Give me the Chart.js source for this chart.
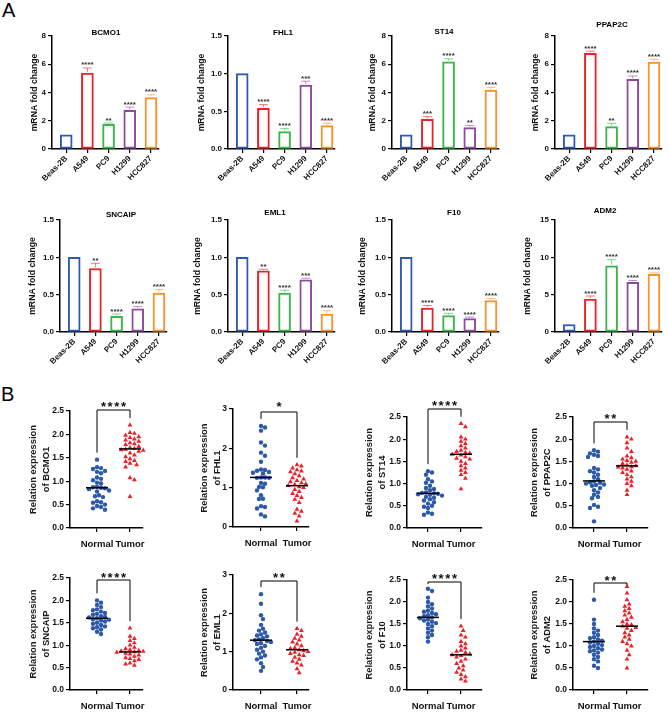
<!DOCTYPE html>
<html><head><meta charset="utf-8">
<script src="https://cdn.jsdelivr.net/npm/chart.js@4.4.1/dist/chart.umd.min.js"></script>
<style>
html,body{margin:0;padding:0;background:#fff}
body{width:669px;height:712px;position:relative;overflow:hidden;font-family:"Liberation Sans",Arial,sans-serif}
.panel{position:absolute;font-size:20px;line-height:20px;color:#000}
</style></head><body>
<div class="panel" style="left:2px;top:0px">A</div>
<div class="panel" style="left:1px;top:384px">B</div>
<script>
// ---------------- DATA: panel A (qPCR, cell lines) ----------------
const cellLines = ['Beas-2B', 'A549', 'PC9', 'H1299', 'HCC827'];

const bcmo1Fold = [1.00, 5.38, 1.74, 2.73, 3.64];
const bcmo1Sd   = [0, 0.36, 0.10, 0.24, 0.20];
const bcmo1Sig  = ['', '****', '**', '****', '****'];

const fhl1Fold = [1.00, 0.54, 0.23, 0.85, 0.31];
const fhl1Sd   = [0, 0.05, 0.04, 0.05, 0.03];
const fhl1Sig  = ['', '****', '****', '***', '****'];

const st14Fold = [1.00, 2.10, 6.18, 1.51, 4.17];
const st14Sd   = [0, 0.19, 0.21, 0.16, 0.19];
const st14Sig  = ['', '***', '****', '**', '****'];

const ppap2cFold = [1.00, 6.77, 1.58, 4.93, 6.16];
const ppap2cSd   = [0, 0.16, 0.24, 0.24, 0.19];
const ppap2cSig  = ['', '****', '**', '****', '****'];

const sncaipFold = [1.00, 0.85, 0.21, 0.31, 0.52];
const sncaipSd   = [0, 0.07, 0.03, 0.03, 0.05];
const sncaipSig  = ['', '**', '****', '****', '****'];

const eml1Fold = [1.00, 0.82, 0.52, 0.70, 0.24];
const eml1Sd   = [0, 0.02, 0.04, 0.02, 0.045];
const eml1Sig  = ['', '**', '****', '***', '****'];

const f10Fold = [1.00, 0.32, 0.22, 0.18, 0.42];
const f10Sd   = [0, 0.035, 0.03, 0.02, 0.03];
const f10Sig  = ['', '****', '****', '****', '****'];

const adm2Fold = [1.00, 4.42, 8.85, 6.64, 7.74];
const adm2Sd   = [0, 0.40, 0.84, 0.26, 0.18];
const adm2Sig  = ['', '****', '****', '****', '****'];

const ticksFold8  = ['0', '2', '4', '6', '8'];
const ticksFold15 = ['0.0', '0.5', '1.0', '1.5'];
const ticksAdm2   = ['0', '5', '10', '15'];

// ---------------- DATA: panel B (tissues) ----------------
const groups = ['Normal', 'Tumor'];

const bcmo1Normal = [1.46,1.30,1.28,1.26,1.22,1.20,1.17,1.08,1.05,1.02,0.97,0.95,0.88,0.87,0.86,0.85,0.83,0.80,0.78,0.70,0.68,0.66,0.57,0.55,0.54,0.50,0.47,0.45,0.42,0.39];
const bcmo1Tumor  = [2.20,2.04,2.02,1.98,1.95,1.93,1.90,1.88,1.85,1.82,1.80,1.78,1.74,1.72,1.70,1.68,1.67,1.66,1.64,1.60,1.56,1.52,1.48,1.44,1.42,1.38,1.35,1.30,1.07,1.03,0.67];
const bcmo1Mean   = [0.86, 1.69];

const fhl1Normal = [2.57,2.53,2.45,2.15,2.07,1.89,1.81,1.66,1.46,1.45,1.43,1.40,1.38,1.36,1.26,1.26,1.25,1.25,1.12,1.10,1.02,1.01,0.93,0.81,0.72,0.71,0.53,0.51,0.47,0.32,0.27];
const fhl1Tumor  = [1.58,1.55,1.50,1.45,1.42,1.40,1.35,1.30,1.25,1.22,1.18,1.15,1.12,1.10,1.08,1.05,1.02,1.00,0.95,0.90,0.85,0.80,0.75,0.70,0.62,0.45,0.40,0.35,0.28,0.15];
const fhl1Mean   = [1.26, 1.05];

const st14Normal = [1.28,1.25,1.20,1.10,1.05,1.02,0.95,0.90,0.88,0.85,0.80,0.79,0.78,0.77,0.76,0.75,0.73,0.70,0.68,0.65,0.62,0.58,0.55,0.50,0.48,0.45,0.35,0.32,0.30];
const st14Tumor  = [2.35,2.28,2.05,2.00,1.95,1.90,1.85,1.80,1.75,1.72,1.70,1.68,1.66,1.64,1.60,1.57,1.55,1.50,1.45,1.40,1.35,1.30,1.25,1.20,1.12,0.88];
const st14Mean   = [0.78, 1.66];

const ppap2cNormal = [1.75,1.72,1.68,1.65,1.62,1.60,1.35,1.32,1.28,1.25,1.20,1.15,1.10,1.05,1.03,1.02,1.00,0.98,0.97,0.95,0.90,0.85,0.80,0.75,0.70,0.67,0.52,0.48,0.45,0.15];
const ppap2cTumor  = [2.05,2.00,1.92,1.80,1.72,1.62,1.58,1.55,1.52,1.50,1.48,1.45,1.42,1.40,1.38,1.37,1.35,1.32,1.28,1.25,1.20,1.15,1.10,1.05,1.00,0.95,0.85,0.75];
const ppap2cMean   = [1.06, 1.40];

const sncaipNormal = [2.00,1.95,1.90,1.85,1.80,1.78,1.75,1.72,1.70,1.68,1.65,1.63,1.62,1.60,1.58,1.57,1.55,1.53,1.50,1.48,1.45,1.42,1.40,1.38,1.35,1.30,1.25];
const sncaipTumor  = [1.38,1.20,1.15,1.10,1.05,1.00,0.95,0.92,0.90,0.88,0.87,0.86,0.85,0.84,0.82,0.80,0.78,0.75,0.72,0.70,0.68,0.65,0.60,0.58,0.55];
const sncaipMean   = [1.60, 0.85];

const eml1Normal = [2.50,2.25,1.95,1.85,1.70,1.60,1.55,1.50,1.45,1.42,1.40,1.35,1.32,1.30,1.28,1.25,1.22,1.20,1.15,1.10,1.05,1.00,0.95,0.90,0.85,0.80,0.70,0.60,0.50];
const eml1Tumor  = [1.60,1.55,1.45,1.40,1.35,1.30,1.25,1.20,1.15,1.10,1.08,1.05,1.02,1.00,0.98,0.95,0.92,0.90,0.85,0.80,0.75,0.70,0.65,0.55,0.45];
const eml1Mean   = [1.30, 1.05];

const f10Normal = [2.30,2.25,2.10,2.00,1.95,1.90,1.85,1.80,1.78,1.75,1.72,1.70,1.68,1.65,1.63,1.60,1.58,1.55,1.52,1.50,1.45,1.40,1.35,1.30,1.25,1.20,1.10];
const f10Tumor  = [1.45,1.35,1.25,1.20,1.10,1.05,1.00,0.95,0.90,0.88,0.85,0.82,0.80,0.78,0.75,0.70,0.65,0.60,0.55,0.50,0.45,0.40,0.35,0.30,0.25,0.20];
const f10Mean   = [1.65, 0.80];

const adm2Normal = [2.05,1.60,1.50,1.40,1.35,1.30,1.25,1.20,1.18,1.15,1.12,1.10,1.08,1.05,1.02,1.00,0.98,0.95,0.92,0.90,0.88,0.85,0.80,0.75,0.70,0.65,0.55,0.50];
const adm2Tumor  = [2.35,2.20,2.05,1.95,1.90,1.85,1.80,1.75,1.70,1.65,1.60,1.55,1.50,1.48,1.45,1.42,1.40,1.35,1.30,1.25,1.20,1.15,1.10,1.05,1.00,0.90,0.80,0.70,0.50];
const adm2Mean   = [1.10, 1.45];

const ticksRel25 = ['0.0', '0.5', '1.0', '1.5', '2.0', '2.5'];
const ticksRel3  = ['0', '1', '2', '3'];

// ---------------- STYLE ----------------
const FONT = '"Liberation Sans", Arial, sans-serif';
Chart.defaults.font.family = FONT;
Chart.defaults.animation = false;
Chart.defaults.color = '#111';
const barColors = ['#2D5AAE', '#EC2227', '#3BB54A', '#8C4B9E', '#F7912A'];
const normalColor = '#2C59A8';
const tumorColor = '#E6232B';

function rgba(hex, a) { const n = parseInt(hex.slice(1), 16); return `rgba(${n >> 16},${(n >> 8) & 255},${n & 255},${a})`; }

function makeCanvas(l, t, w, h) {
  const div = document.createElement('div');
  div.style.cssText = `position:absolute;left:${l}px;top:${t}px;width:${w}px;height:${h}px`;
  const c = document.createElement('canvas');
  c.width = w; c.height = h; c.style.width = w + 'px'; c.style.height = h + 'px';
  div.appendChild(c); document.body.appendChild(div);
  return c;
}
function gridOpts() { return { display: true, drawOnChartArea: false, drawTicks: true, tickLength: 4, color: '#000', lineWidth: 1.2, offset: false }; }
function borderOpts() { return { display: true, color: '#000', width: 1.5 }; }

// ---------------- LAYOUT ----------------
const A_ROW1 = { top: 15, h: 175, at: 36, ab: 149 };
const A_ROW2 = { top: 198, h: 172, at: 220, ab: 332 };
const barLayout = {
  BCMO1:  { ...A_ROW1, left: 0,   w: 168, ax: 52,  ytx: 35,  tx: 106, ty: 33 },
  FHL1:   { ...A_ROW1, left: 168, w: 168, ax: 228, ytx: 202, tx: 283, ty: 33 },
  ST14:   { ...A_ROW1, left: 336, w: 164, ax: 392, ytx: 373, tx: 444, ty: 32 },
  PPAP2C: { ...A_ROW1, left: 500, w: 169, ax: 555, ytx: 536, tx: 612, ty: 25 },
  SNCAIP: { ...A_ROW2, left: 0,   w: 168, ax: 60,  ytx: 33,  tx: 121, ty: 215 },
  EML1:   { ...A_ROW2, left: 168, w: 168, ax: 228, ytx: 198, tx: 275, ty: 213 },
  F10:    { ...A_ROW2, left: 336, w: 164, ax: 392, ytx: 363, tx: 454, ty: 213 },
  ADM2:   { ...A_ROW2, left: 500, w: 169, ax: 555, ytx: 528, tx: 605, ty: 211 }
};
const B_ROW1 = { top: 395, h: 160 };
const B_ROW2 = { top: 555, h: 157 };
const dotLayout = {
  BCMO1:  { ...B_ROW1, left: 0,   w: 168, ax: 70,  at: 411, ab: 528, nx: 97,  tx: 130, ex: 143, ytx: 33,  by: 410, sy: 403 },
  FHL1:   { ...B_ROW1, left: 168, w: 168, ax: 233, at: 409, ab: 527, nx: 261, tx: 297, ex: 309, ytx: 204, by: 412, sy: 403 },
  ST14:   { ...B_ROW1, left: 336, w: 164, ax: 407, at: 417, ab: 528, nx: 428, tx: 461, ex: 482, ytx: 369, by: 409, sy: 402 },
  PPAP2C: { ...B_ROW1, left: 500, w: 169, ax: 573, at: 417, ab: 528, nx: 594, tx: 627, ex: 648, ytx: 534, by: 422, sy: 415 },
  SNCAIP: { ...B_ROW2, left: 0,   w: 168, ax: 70,  at: 578, ab: 690, nx: 97,  tx: 130, ex: 143, ytx: 33,  by: 580, sy: 574 },
  EML1:   { ...B_ROW2, left: 168, w: 168, ax: 233, at: 575, ab: 690, nx: 261, tx: 297, ex: 309, ytx: 204, by: 581, sy: 574 },
  F10:    { ...B_ROW2, left: 336, w: 164, ax: 407, at: 580, ab: 690, nx: 428, tx: 461, ex: 482, ytx: 369, by: 582, sy: 575 },
  ADM2:   { ...B_ROW2, left: 500, w: 169, ax: 573, at: 580, ab: 690, nx: 594, tx: 627, ex: 648, ytx: 534, by: 583, sy: 577 }
};

// ---------------- BAR CHART (panel A) ----------------
function barChart(gene, vals, sd, sig, tickLabels) {
  const g = barLayout[gene];
  const c = makeCanvas(g.left, g.top, g.w, g.h);
  const areaW = 107;
  const tickVals = tickLabels.map(Number);
  const yTitleFont = { size: 8.7, weight: 'bold', lineHeight: 1.2 };
  new Chart(c, {
    type: 'bar',
    data: { datasets: [{
      data: vals.map((v, i) => ({ x: i, y: v })),
      backgroundColor: '#fff', borderColor: barColors, borderWidth: 2,
      borderSkipped: false, barThickness: 12
    }] },
    options: {
      responsive: false, animation: false, events: [],
      layout: { padding: { left: 0, top: g.at - g.top, right: g.w - (g.ax - g.left + areaW), bottom: 0 } },
      plugins: { legend: { display: false }, tooltip: { enabled: false } },
      scales: {
        x: {
          type: 'linear', min: -0.67, max: 4.38, offset: false,
          afterBuildTicks: s => { s.ticks = cellLines.map((_, i) => ({ value: i })); },
          afterFit: s => { s.height = g.top + g.h - g.ab; },
          ticks: { callback: (v, i) => cellLines[i], minRotation: 45, maxRotation: 45, autoSkip: false,
                   font: { size: 8, weight: 'bold' }, color: '#111', padding: 1 },
          grid: gridOpts(), border: borderOpts()
        },
        y: {
          min: tickVals[0], max: tickVals[tickVals.length - 1],
          afterBuildTicks: s => { s.ticks = tickVals.map(v => ({ value: v })); },
          afterFit: s => { s.width = g.ax - g.left; },
          ticks: { callback: (v, i) => tickLabels[i], font: { size: 8, weight: 'bold' }, color: '#111', padding: 2 },
          grid: gridOpts(), border: borderOpts(),
          title: { display: true, text: 'mRNA fold change', font: yTitleFont, color: '#111',
                   padding: { top: g.ytx - g.left - 8.7 * 1.2 / 2, bottom: 0 } }
        }
      }
    },
    plugins: [{
      id: 'annA',
      afterDatasetsDraw(ch) {
        const ctx = ch.ctx, xs = ch.scales.x, ys = ch.scales.y;
        ctx.save();
        vals.forEach((v, i) => {
          const px = xs.getPixelForValue(i);
          const top = ys.getPixelForValue(v);
          const et = ys.getPixelForValue(v + sd[i]);
          if (sd[i] > 0) {
            ctx.strokeStyle = rgba(barColors[i], 0.6); ctx.lineWidth = 1;
            ctx.beginPath(); ctx.moveTo(px, top - 1); ctx.lineTo(px, et);
            ctx.moveTo(px - 4.5, et); ctx.lineTo(px + 4.5, et); ctx.stroke();
          }
          if (sig[i]) {
            ctx.fillStyle = '#333'; ctx.font = 'bold 8px ' + FONT;
            ctx.textAlign = 'center'; ctx.textBaseline = 'alphabetic';
            ctx.fillText(sig[i], px, et - 0.5);
          }
        });
        ctx.fillStyle = '#000'; ctx.font = 'bold 8px ' + FONT;
        ctx.textAlign = 'center'; ctx.textBaseline = 'middle';
        ctx.fillText(gene, g.tx - g.left, g.ty - g.top);
        ctx.restore();
      }
    }]
  });
}

// ---------------- DOT PLOT (panel B) ----------------
function swarmX(values, xs, ys, center, d) {
  const cx = xs.getPixelForValue(center);
  const order = values.map((v, i) => i).sort((a, b) => values[b] - values[a]);
  const placed = [];
  const res = new Array(values.length);
  const step = d / 2;
  for (const i of order) {
    const py = ys.getPixelForValue(values[i]);
    let chosen = 0;
    for (let k = 0; k < 80; k++) {
      const off = k === 0 ? 0 : (k % 2 ? 1 : -1) * Math.ceil(k / 2) * step;
      let ok = true;
      for (const q of placed) {
        const dx = q.x - off, dy = q.y - py;
        if (dx * dx + dy * dy < d * d) { ok = false; break; }
      }
      if (ok) { chosen = off; break; }
    }
    placed.push({ x: chosen, y: py });
    res[i] = xs.getValueForPixel(cx + chosen);
  }
  return res;
}

function dotChart(gene, normal, tumor, means, sig, tickLabels) {
  const g = dotLayout[gene];
  const c = makeCanvas(g.left, g.top, g.w, g.h);
  const sp = g.tx - g.nx;
  const tickVals = tickLabels.map(Number);
  const lh = 9.4 * 1.47;
  const chart = new Chart(c, {
    type: 'scatter',
    data: { datasets: [
      { label: groups[0], data: normal.map(v => ({ x: 0, y: v })), pointStyle: 'circle', pointRadius: 2.2,
        backgroundColor: normalColor, borderColor: normalColor, borderWidth: 0, clip: false },
      { label: groups[1], data: tumor.map(v => ({ x: 1, y: v })), pointStyle: 'triangle', pointRadius: 2.8,
        backgroundColor: tumorColor, borderColor: tumorColor, borderWidth: 0, clip: false }
    ] },
    options: {
      responsive: false, animation: false, events: [],
      layout: { padding: { left: 0, top: g.at - g.top, right: g.left + g.w - g.ex, bottom: 0 } },
      plugins: { legend: { display: false }, tooltip: { enabled: false } },
      scales: {
        x: {
          type: 'linear', min: -(g.nx - g.ax) / sp, max: (g.ex - g.nx) / sp, offset: false,
          afterBuildTicks: s => { s.ticks = groups.map((_, i) => ({ value: i })); },
          afterFit: s => { s.height = g.top + g.h - g.ab; },
          ticks: { callback: (v, i) => groups[i], maxRotation: 0, minRotation: 0, autoSkip: false,
                   font: { size: 9.5, weight: 'bold' }, color: '#111', padding: 7 },
          grid: gridOpts(), border: borderOpts()
        },
        y: {
          min: tickVals[0], max: tickVals[tickVals.length - 1],
          afterBuildTicks: s => { s.ticks = tickVals.map(v => ({ value: v })); },
          afterFit: s => { s.width = g.ax - g.left; },
          ticks: { callback: (v, i) => tickLabels[i], font: { size: 8.5, weight: 'bold' }, color: '#111', padding: 2 },
          grid: gridOpts(), border: borderOpts(),
          title: { display: true, text: ['Relation expression', 'of ' + gene],
                   font: { size: 9.4, weight: 'bold', lineHeight: 1.47 }, color: '#1a1a1a',
                   padding: { top: g.ytx - g.left - lh / 2, bottom: 0 } }
        }
      }
    },
    plugins: [{
      id: 'annB',
      afterDatasetsDraw(ch) {
        const ctx = ch.ctx, xs = ch.scales.x, ys = ch.scales.y;
        ctx.save();
        ctx.strokeStyle = '#000';
        // mean lines
        ctx.lineWidth = 1.5;
        means.forEach((m, k) => {
          const px = xs.getPixelForValue(k), py = ys.getPixelForValue(m);
          ctx.beginPath(); ctx.moveTo(px - 11, py); ctx.lineTo(px + 11, py); ctx.stroke();
        });
        // bracket
        const nx = xs.getPixelForValue(0), tx = xs.getPixelForValue(1);
        const by = g.by - g.top;
        const legN = Math.max(by + 2, ys.getPixelForValue(Math.max(...normal)) - 7);
        const legT = Math.max(by + 2, ys.getPixelForValue(Math.max(...tumor)) - 7);
        ctx.lineWidth = 1;
        ctx.beginPath(); ctx.moveTo(nx, legN); ctx.lineTo(nx, by); ctx.lineTo(tx, by); ctx.lineTo(tx, legT); ctx.stroke();
        // stars
        ctx.fillStyle = '#111'; ctx.font = 'bold 13px ' + FONT;
        ctx.textAlign = 'center'; ctx.textBaseline = 'alphabetic';
        const n = sig.length, gap = 6.7, mid = (nx + tx) / 2;
        for (let s = 0; s < n; s++) {
          ctx.fillText('*', mid + (s - (n - 1) / 2) * gap, g.sy - g.top + 7.5);
        }
        ctx.restore();
      }
    }]
  });
  const xN = swarmX(normal, chart.scales.x, chart.scales.y, 0, 4.0);
  const xT = swarmX(tumor, chart.scales.x, chart.scales.y, 1, 4.4);
  chart.data.datasets[0].data = normal.map((v, i) => ({ x: xN[i], y: v }));
  chart.data.datasets[1].data = tumor.map((v, i) => ({ x: xT[i], y: v }));
  chart.update('none');
}

// ---------------- BUILD ----------------
barChart('BCMO1', bcmo1Fold, bcmo1Sd, bcmo1Sig, ticksFold8);
barChart('FHL1', fhl1Fold, fhl1Sd, fhl1Sig, ticksFold15);
barChart('ST14', st14Fold, st14Sd, st14Sig, ticksFold8);
barChart('PPAP2C', ppap2cFold, ppap2cSd, ppap2cSig, ticksFold8);
barChart('SNCAIP', sncaipFold, sncaipSd, sncaipSig, ticksFold15);
barChart('EML1', eml1Fold, eml1Sd, eml1Sig, ticksFold15);
barChart('F10', f10Fold, f10Sd, f10Sig, ticksFold15);
barChart('ADM2', adm2Fold, adm2Sd, adm2Sig, ticksAdm2);

dotChart('BCMO1', bcmo1Normal, bcmo1Tumor, bcmo1Mean, '****', ticksRel25);
dotChart('FHL1', fhl1Normal, fhl1Tumor, fhl1Mean, '*', ticksRel3);
dotChart('ST14', st14Normal, st14Tumor, st14Mean, '****', ticksRel25);
dotChart('PPAP2C', ppap2cNormal, ppap2cTumor, ppap2cMean, '**', ticksRel25);
dotChart('SNCAIP', sncaipNormal, sncaipTumor, sncaipMean, '****', ticksRel25);
dotChart('EML1', eml1Normal, eml1Tumor, eml1Mean, '**', ticksRel3);
dotChart('F10', f10Normal, f10Tumor, f10Mean, '****', ticksRel25);
dotChart('ADM2', adm2Normal, adm2Tumor, adm2Mean, '**', ticksRel25);
</script>
</body></html>
